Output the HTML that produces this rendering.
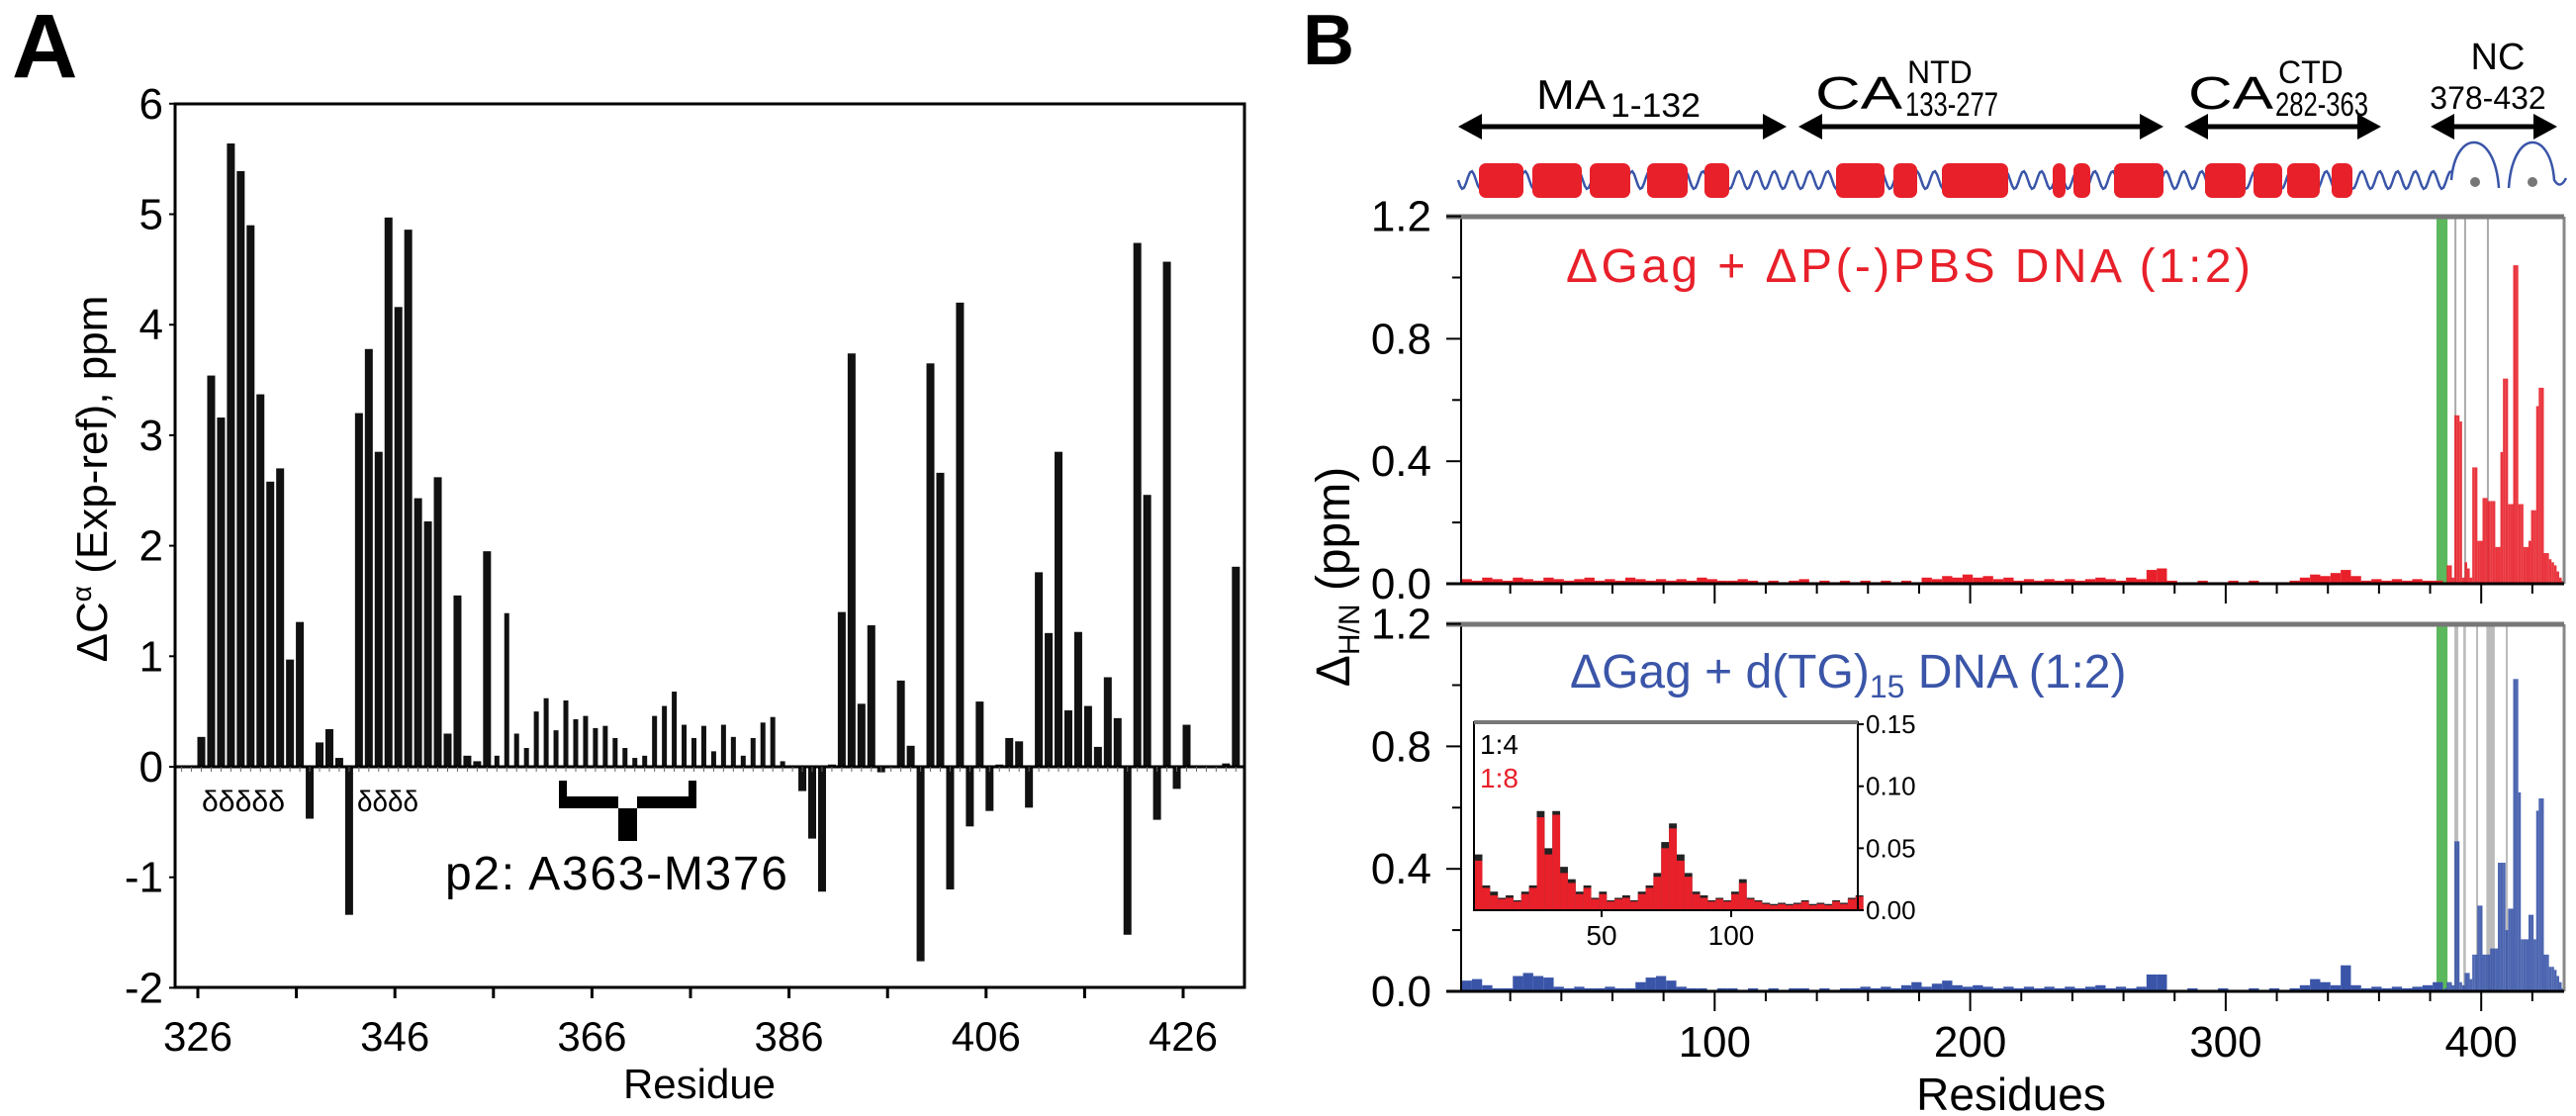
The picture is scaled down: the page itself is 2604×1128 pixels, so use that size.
<!DOCTYPE html>
<html><head><meta charset="utf-8"><style>
html,body{margin:0;padding:0;background:#fff;}
svg{display:block;font-family:"Liberation Sans",Arial,sans-serif;}
</style></head><body>
<svg id="fig" width="2604" height="1128" viewBox="0 0 2604 1128" xmlns="http://www.w3.org/2000/svg">
<g id="panelA"></g>
<g id="panelB"></g>
</svg>
<script>
// ---------- Panel A data ----------
const aResidues = [];
for (let r = 326; r <= 431; r++) aResidues.push(r);
const aValues = [0.27,3.54,3.16,5.64,5.39,4.90,3.37,2.58,2.70,0.97,1.31,-0.47,0.22,0.34,0.08,-1.34,
3.20,3.78,2.85,4.97,4.16,4.86,2.43,2.22,2.62,0.30,1.55,0.10,0.05,1.95,0.10,1.39,0.30,0.17,0.50,0.62,
0.33,0.60,0.43,0.46,0.35,0.37,0.26,0.17,0.08,0.10,0.46,0.55,0.68,0.38,0.26,0.37,0.14,0.38,0.27,0.10,
0.26,0.40,0.45,0.05,0.00,-0.22,-0.65,-1.13,0.02,1.40,3.74,0.57,1.28,-0.05,0.00,0.78,0.19,-1.76,3.65,
2.66,-1.11,4.20,-0.54,0.59,-0.40,0.02,0.26,0.23,-0.37,1.76,1.21,2.85,0.51,1.22,0.55,0.18,0.81,0.44,
-1.52,4.74,2.46,-0.48,4.57,-0.20,0.38,0.01,0.00,0.01,0.03,1.81];
const aYTicks = [6,5,4,3,2,1,0,-1,-2];
const aXTickLabels = [326,346,366,386,406,426];

// ---------- Panel B data ----------
const bLowStarts = [];
for (let r = 1; r <= 381; r += 4) bLowStarts.push(r);
const redLow = [0.015,0.01,0.02,0.015,0.01,0.02,0.015,0.01,0.02,0.015,
0.01,0.015,0.02,0.01,0.015,0.01,0.02,0.015,0.01,0.015,
0.01,0.015,0.01,0.02,0.015,0.01,0.01,0.015,0.01,0.005,
0.01,0.005,0.01,0.015,0.005,0.01,0.005,0.01,0.005,0.01,
0.005,0.01,0.005,0.01,0.005,0.02,0.015,0.025,0.02,0.03,
0.02,0.025,0.015,0.02,0.01,0.015,0.01,0.015,0.01,0.015,
0.01,0.015,0.02,0.015,0.01,0.02,0.015,0.045,0.05,0.01,
0.005,0.005,0.01,0.005,0.005,0.01,0.005,0.01,0.005,0.005,
0.005,0.01,0.02,0.03,0.025,0.035,0.045,0.025,0.01,0.015,
0.01,0.015,0.01,0.015,0.01,0.01];
const blueLow = [0.035,0.04,0.02,0.01,0.01,0.05,0.06,0.05,0.045,0.015,
0.01,0.015,0.01,0.01,0.015,0.01,0.01,0.03,0.045,0.05,
0.035,0.015,0.01,0.01,0.005,0.01,0.01,0.005,0.01,0.005,
0.01,0.005,0.01,0.01,0.005,0.01,0.005,0.01,0.01,0.015,
0.01,0.015,0.01,0.02,0.03,0.015,0.025,0.035,0.02,0.015,
0.02,0.015,0.01,0.015,0.01,0.015,0.01,0.015,0.01,0.015,
0.01,0.015,0.02,0.01,0.015,0.01,0.015,0.055,0.055,0.005,
0.005,0.01,0.005,0.005,0.01,0.005,0.005,0.01,0.005,0.01,
0.005,0.01,0.02,0.04,0.03,0.02,0.085,0.02,0.01,0.015,
0.01,0.015,0.01,0.015,0.02,0.03];
const bHighRes = [];
for (let r = 385; r <= 432; r++) bHighRes.push(r);
const redHigh = [0,0,0.06,0.06,0.02,0.55,0.55,0.53,0.02,0.07,0.05,0.02,0.38,0.38,0.14,0.14,0.28,0.28,0.27,0.27,0.27,0.12,0.12,0.43,0.67,0.67,0.26,0.26,1.04,1.04,0.26,0.26,0.12,0.12,0.14,0.24,0.24,0.58,0.64,0.64,0.1,0.1,0.08,0.07,0.06,0.04,0.02,0.01];
const blueHigh = [0,0.01,0.03,0.03,0.02,0.49,0.49,0.03,0.02,0.06,0.06,0.04,0.12,0.12,0.28,0.28,0.12,0.12,0.12,0.14,0.14,0.14,0.42,0.42,0.42,0.2,0.27,0.27,1.02,1.02,0.65,0.17,0.17,0.17,0.25,0.25,0.17,0.59,0.63,0.63,0.12,0.12,0.08,0.08,0.07,0.05,0.03,0.01];
const bYTicks = [0,0.2,0.4,0.6,0.8,1.0,1.2];
const bYLabels = ["0.0","","0.4","","0.8","","1.2"];
const bXTicks = [20,40,60,80,100,120,140,160,180,200,220,240,260,280,300,320,340,360,380,400,420];
const bXLabels = [100,200,300,400];
const greenRes = [382.5,386.8];
const grayTop = [389.9,393.7,402.6];
const grayBottom = [[389.5,391],[393,394],[398,398.4],[402,405.3],[409.6,410]];

// inset data
const insetStarts = [];
for (let r = 1; r <= 148; r += 3) insetStarts.push(r);
const insetBlack = [0.045,0.02,0.015,0.01,0.012,0.008,0.015,0.02,0.08,0.05,0.08,0.035,0.025,0.015,0.02,0.01,0.015,0.008,0.01,0.012,0.008,0.015,0.02,0.03,0.055,0.07,0.045,0.03,0.015,0.012,0.008,0.01,0.008,0.015,0.025,0.01,0.008,0.006,0.005,0.006,0.005,0.006,0.008,0.005,0.006,0.005,0.008,0.006,0.01,0.012];
const insetRed = [0.04,0.018,0.012,0.009,0.01,0.007,0.013,0.018,0.075,0.045,0.077,0.03,0.022,0.013,0.018,0.009,0.013,0.007,0.009,0.01,0.007,0.013,0.018,0.027,0.05,0.066,0.04,0.027,0.013,0.01,0.007,0.009,0.007,0.013,0.022,0.009,0.007,0.005,0.004,0.005,0.004,0.005,0.007,0.004,0.005,0.004,0.007,0.005,0.009,0.011];
const insetYTicks = [0,0.05,0.10,0.15];
const insetYLabels = ["0.00","0.05","0.10","0.15"];
const insetXLabels = [50,100];

// ---------- helpers ----------
const NS = "http://www.w3.org/2000/svg";
function mk(parent, tag, attrs, text) {
  const e = document.createElementNS(NS, tag);
  for (const k in attrs) e.setAttribute(k, attrs[k]);
  if (text !== undefined) e.textContent = text;
  parent.appendChild(e);
  return e;
}

// ---------- Panel A ----------
const A = document.getElementById('panelA');
const aL = 177, aT = 105, aR = 1258, aB = 998;
const axA = r => 200 + (r - 326) * 9.96;
const ayA = v => 775 - v * 111.7;

let t = mk(A, 'text', {x: 12, y: 78, 'font-size': 92, 'font-weight': 'bold'}, 'A');



for (let i = 0; i < aResidues.length; i++) {
  const r = aResidues[i], v = aValues[i];
  const w = (r >= 356 && r <= 386) ? 5 : 8;
  const cx = axA(r) + 3.5;
  const y0 = ayA(0), y1 = ayA(v);
  const b = mk(A, 'rect', {x: cx - w / 2, y: Math.min(y0, y1), width: w, height: Math.max(1, Math.abs(y1 - y0)), fill: '#111'});
  
  
}
let zl = mk(A, 'line', {x1: aL, x2: aR, y1: ayA(0), y2: ayA(0), stroke: '#000', 'stroke-width': 3});


for (let r = 324; r <= 431; r++) {
  mk(A, 'line', {x1: axA(r) + 3.5, x2: axA(r) + 3.5, y1: ayA(0), y2: ayA(0) + 5, stroke: '#666', 'stroke-width': 1});
}
let fr = mk(A, 'rect', {x: aL, y: aT, width: aR - aL, height: aB - aT, fill: 'none', stroke: '#000', 'stroke-width': 3});


for (const v of aYTicks) {
  mk(A, 'line', {x1: aL - 6, x2: aL, y1: ayA(v), y2: ayA(v), stroke: '#000', 'stroke-width': 2});
  const l = mk(A, 'text', {x: 165, y: ayA(v) + 15, 'font-size': 44, 'text-anchor': 'end'}, String(v));
  
  
}
for (let r = 326; r <= 431; r += 10) {
  mk(A, 'line', {x1: axA(r), x2: axA(r), y1: aB, y2: aB + 11, stroke: '#000', 'stroke-width': 3});
}
for (const r of aXTickLabels) {
  const l = mk(A, 'text', {x: axA(r), y: 1062, 'font-size': 42, 'text-anchor': 'middle'}, String(r));
  
  
}
t = mk(A, 'text', {x: 707, y: 1110, 'font-size': 42, 'text-anchor': 'middle'}, 'Residue');


t = mk(A, 'text', {x: 0, y: 0, 'font-size': 44, 'text-anchor': 'middle', transform: 'translate(108,484) rotate(-90)'});


t.innerHTML = 'ΔC<tspan font-size="28" dy="-16">α</tspan><tspan dy="16"> (Exp-ref), ppm</tspan>';
t = mk(A, 'text', {x: 204, y: 820, 'font-size': 30, textLength: 84, lengthAdjust: 'spacingAndGlyphs'}, 'δδδδδ');


t = mk(A, 'text', {x: 361, y: 820, 'font-size': 30, textLength: 62, lengthAdjust: 'spacingAndGlyphs'}, 'δδδδ');


const br = mk(A, 'path', {d: 'M565 789 V817 H704 V789 H696 V805 H644 V850 H625 V805 H573 V789 Z', fill: '#000'});


t = mk(A, 'text', {x: 450, y: 899, 'font-size': 48, textLength: 346}, 'p2: A363-M376');



// ---------- Panel B ----------
const B = document.getElementById('panelB');
const bL = 1477, bR = 2592;
const bx = r => 1475 + r * 2.583;
const plots = [
  {top: 219, zero: 590, low: redLow, high: redHigh, color: '#e8202a', name: 'top', gray: 'top'},
  {top: 631, zero: 1002, low: blueLow, high: blueHigh, color: '#3a55a8', name: 'bottom', gray: 'bottom'}
];
t = mk(B, 'text', {x: 1317, y: 65, 'font-size': 72, 'font-weight': 'bold'}, 'B');



for (const p of plots) {
  const by = v => p.zero - v * 309.5;
  const g = mk(B, 'g', {});
  
  
  const gb = mk(g, 'rect', {x: bx(greenRes[0]), y: p.top, width: bx(greenRes[1]) - bx(greenRes[0]), height: p.zero - p.top, fill: '#5cb85c'});
  
  
  if (p.gray === 'top') {
    for (const r of grayTop) mk(g, 'line', {x1: bx(r), x2: bx(r), y1: p.top, y2: p.zero, stroke: '#aaa', 'stroke-width': 2});
  } else {
    for (const s of grayBottom) mk(g, 'rect', {x: bx(s[0]), y: p.top, width: Math.max(2, bx(s[1]) - bx(s[0])), height: p.zero - p.top, fill: '#bbb'});
  }
  for (let i = 0; i < bLowStarts.length; i++) {
    const v = p.low[i];
    const b = mk(g, 'rect', {x: bx(bLowStarts[i]), y: by(v), width: 4 * 2.583, height: p.zero - by(v), fill: p.color});
    
    
  }
  for (let i = 0; i < bHighRes.length; i++) {
    const v = p.high[i];
    const b = mk(g, 'rect', {x: bx(bHighRes[i]) - 1.3, y: by(v), width: 2.6, height: p.zero - by(v), fill: p.color, 'fill-opacity': 0.9});
    
    
  }
  mk(g, 'line', {x1: bL, x2: bL, y1: p.top, y2: p.zero, stroke: '#000', 'stroke-width': 2});
  mk(g, 'line', {x1: bR, x2: bR, y1: p.top, y2: p.zero, stroke: '#888', 'stroke-width': 3});
  mk(g, 'line', {x1: bL - 15, x2: bR, y1: p.top, y2: p.top, stroke: '#777', 'stroke-width': 5});
  mk(g, 'line', {x1: bL - 15, x2: bR, y1: p.zero, y2: p.zero, stroke: '#000', 'stroke-width': 3});
  for (let i = 0; i < bYTicks.length; i++) {
    const major = bYLabels[i] !== '';
    mk(g, 'line', {x1: bL - (major ? 15 : 9), x2: bL, y1: by(bYTicks[i]), y2: by(bYTicks[i]), stroke: '#000', 'stroke-width': 2});
    if (major) {
      const l = mk(g, 'text', {x: 1447, y: by(bYTicks[i]) + 15, 'font-size': 44, 'text-anchor': 'end'}, bYLabels[i]);
      
      
    }
  }
  for (const r of bXTicks) {
    const major = r % 100 === 0;
    mk(g, 'line', {x1: bx(r), x2: bx(r), y1: p.zero, y2: p.zero + (major ? 20 : 10), stroke: '#000', 'stroke-width': 2});
  }
}
for (const r of bXLabels) {
  const l = mk(B, 'text', {x: bx(r), y: 1068, 'font-size': 44, 'text-anchor': 'middle'}, String(r));
  
  
}
t = mk(B, 'text', {x: 2033, y: 1122, 'font-size': 46, 'text-anchor': 'middle'}, 'Residues');


t = mk(B, 'text', {x: 0, y: 0, 'font-size': 48, 'text-anchor': 'middle', transform: 'translate(1364,583) rotate(-90)'});


t.innerHTML = 'Δ<tspan font-size="30" dy="10">H/N</tspan><tspan dy="-10"> (ppm)</tspan>';
t = mk(B, 'text', {x: 1583, y: 285, 'font-size': 48, fill: '#e8202a', textLength: 692}, 'ΔGag + ΔP(-)PBS DNA (1:2)');


t = mk(B, 'text', {x: 1587, y: 695, 'font-size': 48, fill: '#3a55a8'});


t.innerHTML = 'ΔGag + d(TG)<tspan font-size="32" dy="10">15</tspan><tspan dy="-10"> DNA (1:2)</tspan>';

// ---------- inset ----------
const I = mk(B, 'g', {});


const ix = r => 1488 + r * 2.62;
const iy = v => 920 - v * 1253;
mk(I, 'rect', {x: 1490, y: 730, width: 388, height: 190, fill: '#fff'});
for (let i = 0; i < insetStarts.length; i++) {
  const b = mk(I, 'rect', {x: ix(insetStarts[i]), y: iy(insetBlack[i]), width: 3 * 2.62, height: 920 - iy(insetBlack[i]), fill: '#222'});
  
  
}
for (let i = 0; i < insetStarts.length; i++) {
  const b = mk(I, 'rect', {x: ix(insetStarts[i]), y: iy(insetRed[i]), width: 3 * 2.62, height: 920 - iy(insetRed[i]), fill: '#e8202a'});
  
  
}
mk(I, 'rect', {x: 1490, y: 730, width: 388, height: 190, fill: 'none', stroke: '#000', 'stroke-width': 2});
mk(I, 'line', {x1: 1490, x2: 1878, y1: 730, y2: 730, stroke: '#777', 'stroke-width': 4});
for (let i = 0; i < insetYTicks.length; i++) {
  mk(I, 'line', {x1: 1878, x2: 1884, y1: iy(insetYTicks[i]), y2: iy(insetYTicks[i]), stroke: '#000', 'stroke-width': 2});
  const l = mk(I, 'text', {x: 1886, y: iy(insetYTicks[i]) + 9, 'font-size': 26}, insetYLabels[i]);
  
  
}
for (const r of insetXLabels) {
  mk(I, 'line', {x1: ix(r), x2: ix(r), y1: 920, y2: 927, stroke: '#000', 'stroke-width': 2});
  const l = mk(I, 'text', {x: ix(r), y: 955, 'font-size': 28, 'text-anchor': 'middle'}, String(r));
  
  
}
t = mk(I, 'text', {x: 1496, y: 762, 'font-size': 28}, '1:4');


t = mk(I, 'text', {x: 1496, y: 796, 'font-size': 28, fill: '#e8202a'}, '1:8');



// ---------- topology diagram ----------
const D = mk(B, 'g', {});


function arrow(x1, x2, y, name) {
  const g = mk(D, 'g', {});
  
  
  mk(g, 'line', {x1: x1 + 10, x2: x2 - 10, y1: y, y2: y, stroke: '#000', 'stroke-width': 5});
  mk(g, 'path', {d: `M${x1} ${y} L${x1 + 24} ${y - 13} L${x1 + 24} ${y + 13} Z M${x2} ${y} L${x2 - 24} ${y - 13} L${x2 - 24} ${y + 13} Z`, fill: '#000'});
}
arrow(1474, 1806, 128, 'ma-arrow');
arrow(1818, 2187, 128, 'ca-ntd-arrow');
arrow(2208, 2407, 128, 'ca-ctd-arrow');
arrow(2457, 2585, 128, 'nc-arrow');
t = mk(D, 'text', {x: 1553, y: 110, 'font-size': 42});


t.innerHTML = '<tspan textLength="70" lengthAdjust="spacingAndGlyphs">MA</tspan><tspan font-size="34" x="1628" y="118" textLength="91" lengthAdjust="spacingAndGlyphs">1-132</tspan>';
t = mk(D, 'text', {x: 1835, y: 110, 'font-size': 46});


t.innerHTML = '<tspan textLength="88" lengthAdjust="spacingAndGlyphs">CA</tspan><tspan font-size="32" x="1928" y="84">NTD</tspan><tspan font-size="34" x="1926" y="117" textLength="94" lengthAdjust="spacingAndGlyphs">133-277</tspan>';
t = mk(D, 'text', {x: 2212, y: 110, 'font-size': 46});


t.innerHTML = '<tspan textLength="86" lengthAdjust="spacingAndGlyphs">CA</tspan><tspan font-size="32" x="2303" y="84">CTD</tspan><tspan font-size="34" x="2300" y="117" textLength="94" lengthAdjust="spacingAndGlyphs">282-363</tspan>';
t = mk(D, 'text', {x: 2525, y: 70, 'font-size': 38, 'text-anchor': 'middle'}, 'NC');


t = mk(D, 'text', {x: 2515, y: 110, 'font-size': 32, 'text-anchor': 'middle'}, '378-432');


let wd = '';
for (let x = 1474; x <= 2478; x += 2) {
  const y = 182 + 9 * Math.sin((x - 1474) / 18 * 2 * Math.PI);
  wd += (x === 1474 ? 'M' : 'L') + x + ' ' + y.toFixed(1) + ' ';
}
wd += 'M2478 182 C2482 130, 2522 130, 2526 190 M2536 190 C2540 130, 2578 130, 2582 182 Q2588 192 2594 180';
const wv = mk(D, 'path', {d: wd, fill: 'none', stroke: '#3a55a8', 'stroke-width': 2.5});


const helices = [[1495,1540],[1549,1599],[1607,1648],[1665,1706],[1723,1748],[1856,1905],[1914,1938],[1963,2030],[2075,2088],[2096,2113],[2137,2187],[2229,2270],[2278,2307],[2312,2345],[2357,2378]];
for (const h of helices) {
  const e = mk(D, 'rect', {x: h[0], y: 165, width: h[1] - h[0], height: 35, rx: 7, fill: '#e8202a'});
  
  
}
for (const x of [2502, 2560]) {
  const c = mk(D, 'circle', {cx: x, cy: 184, r: 5, fill: '#777'});
  
  
}
</script>
</body></html>
